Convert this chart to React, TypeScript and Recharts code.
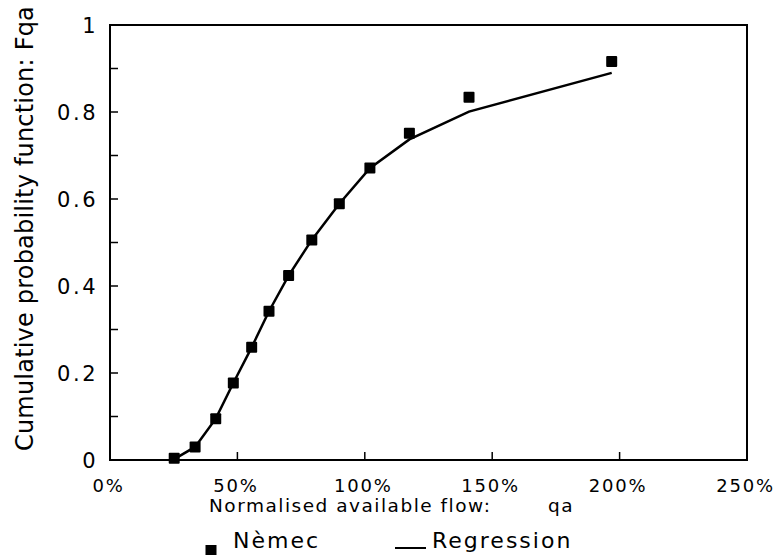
import React from 'react';
import { ComposedChart, Line, Scatter, XAxis, YAxis, ReferenceArea, Legend, Label } from 'recharts';

const flowPct = [25.2, 33.4, 41.5, 48.4, 55.6, 62.4, 70.1, 79.2, 90.0, 102.0, 117.5, 140.9, 196.9];
const nemecF = [0.004, 0.03, 0.095, 0.177, 0.259, 0.342, 0.424, 0.506, 0.589, 0.671, 0.751, 0.834, 0.916];
const regressionF = [0.002, 0.03, 0.095, 0.177, 0.259, 0.342, 0.424, 0.506, 0.589, 0.671, 0.737, 0.801, 0.89];
const xTicks = [0, 50, 100, 150, 200, 250];
const yTicks = [0, 0.1, 0.2, 0.3, 0.4, 0.5, 0.6, 0.7, 0.8, 0.9, 1];
const yLabelled = [0, 0.2, 0.4, 0.6, 0.8, 1];

const nemecData = flowPct.map((x, i) => ({ x, y: nemecF[i] }));
const regressionData = flowPct.map((x, i) => ({ x, y: regressionF[i] }));

const FONT = '"DejaVu Sans", sans-serif';

const XTick = (props: any) => {
  const { x, y, payload } = props;
  return (
    <text x={x - 1.5} y={y} dy="0.71em" textAnchor="middle" fontFamily={FONT} fontSize={18} letterSpacing={1.8} fill="#000">
      {payload.value + '%'}
    </text>
  );
};

const YTick = (props: any) => {
  const { x, y, payload } = props;
  const v = payload.value;
  if (!yLabelled.some((t) => Math.abs(t - v) < 1e-6)) return null;
  return (
    <text x={x} y={y} dy="0.36em" textAnchor="end" fontFamily={FONT} fontSize={21} letterSpacing={2.5} fill="#000">
      {String(v)}
    </text>
  );
};

const XTitle = (props: any) => {
  const { viewBox } = props;
  const x0 = viewBox.x + 99;
  const yb = viewBox.y + 51.5;
  return (
    <text x={x0} y={yb} fontFamily={FONT} fontSize={18.5} letterSpacing={1.5} fill="#000">
      <tspan>Normalised available flow:</tspan>
      <tspan x={x0 + 339}>qa</tspan>
    </text>
  );
};

const YTitle = (props: any) => {
  const { viewBox } = props;
  const cx = viewBox.x + 33;
  const cy = viewBox.y + viewBox.height / 2 - 14;
  return (
    <text x={cx} y={cy} transform={`rotate(-90, ${cx}, ${cy})`} textAnchor="middle" fontFamily={FONT} fontSize={24} letterSpacing={0.2} fill="#000">
      Cumulative probability function: Fqa
    </text>
  );
};

const SquareShape = (props: any) => {
  const { cx, cy } = props;
  return <rect x={cx - 5.5} y={cy - 5.5} width={11} height={11} rx={1} fill="#000" />;
};

const renderLegend = (props: any) => {
  const { payload } = props;
  return (
    <svg width={777} height={40} style={{ display: 'block' }}>
      {(payload || []).map((entry: any, i: number) => {
        if (entry.type === 'line') {
          return (
            <g key={i}>
              <line x1={395} y1={28} x2={426} y2={28} stroke="#000" strokeWidth={2} />
              <text x={432} y={28} fontFamily={FONT} fontSize={22} letterSpacing={2} fill="#000">{entry.value}</text>
            </g>
          );
        }
        return (
          <g key={i}>
            <rect x={205.5} y={25} width={11} height={10} fill="#000" />
            <text x={233} y={28} fontFamily={FONT} fontSize={22} letterSpacing={2} fill="#000">{entry.value}</text>
          </g>
        );
      })}
    </svg>
  );
};

export default function App() {
  return (
    <div style={{ position: 'absolute', left: 0, top: 0, width: 777, height: 560, background: '#fff' }}>
      <ComposedChart width={777} height={560} margin={{ top: 25, right: 30, bottom: 0, left: 0 }}>
        <XAxis
          type="number"
          dataKey="x"
          domain={[0, 250]}
          ticks={xTicks}
          interval={0}
          height={100}
          tickSize={-8}
          tickMargin={27}
          tick={<XTick />}
          axisLine={{ stroke: '#000', strokeWidth: 2 }}
          tickLine={{ stroke: '#000', strokeWidth: 1.5 }}
        >
          <Label content={<XTitle />} />
        </XAxis>
        <YAxis
          type="number"
          domain={[0, 1]}
          ticks={yTicks}
          interval={0}
          width={110}
          tickSize={-8}
          tickMargin={20}
          tick={<YTick />}
          axisLine={{ stroke: '#000', strokeWidth: 2 }}
          tickLine={{ stroke: '#000', strokeWidth: 1.5 }}
        >
          <Label content={<YTitle />} />
        </YAxis>
        <ReferenceArea x1={0} x2={250} y1={0} y2={1} fill="none" stroke="#000" strokeWidth={2} />
        <Line
          data={regressionData}
          dataKey="y"
          name="Regression"
          type="linear"
          stroke="#000"
          strokeWidth={2.5}
          dot={false}
          activeDot={false}
          legendType="line"
          isAnimationActive={false}
        />
        <Scatter
          data={nemecData}
          dataKey="y"
          name="Nèmec"
          fill="#000"
          shape={<SquareShape />}
          legendType="square"
          isAnimationActive={false}
        />
        <Legend
          layout="horizontal"
          verticalAlign="middle"
          align="center"
          content={renderLegend}
          wrapperStyle={{ position: 'absolute', left: 0, top: 520, width: 777, height: 40 }}
        />
      </ComposedChart>
    </div>
  );
}
